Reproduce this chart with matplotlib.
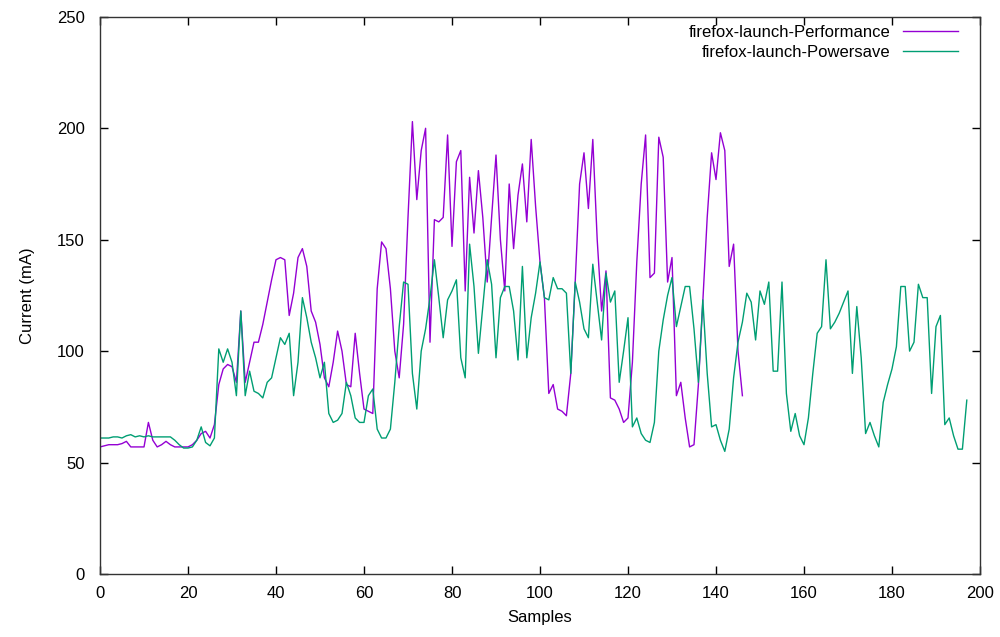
import matplotlib
matplotlib.use("Agg")
import matplotlib.pyplot as plt

# current draw per sample (mA)
performance = [
    57, 57.5, 58, 58, 58, 58.5, 59.5, 57, 57, 57,
    57, 68, 60, 57, 58, 59.5, 58, 57, 57, 57,
    57, 58, 60, 63, 64, 61, 67, 85, 92, 94,
    93, 86, 118, 86, 95, 104, 104, 112, 122, 132,
    141, 142, 141, 116, 126, 142, 146, 138, 118, 113,
    103, 88, 84, 95, 109, 100, 85, 84, 108, 90,
    74, 73, 72, 128, 149, 146, 128, 100, 88, 112,
    160, 203, 168, 190, 200, 104, 159, 158, 160, 197,
    147, 185, 190, 127, 178, 153, 181, 160, 131, 160,
    188, 150, 127, 175, 146, 170, 184, 158, 195, 165,
    140, 124, 81, 85, 74, 73, 71, 90, 131, 175,
    189, 164, 195, 150, 118, 136, 79, 78, 74, 68,
    70, 95, 140, 175, 197, 133, 135, 196, 187, 131,
    142, 80, 86, 70, 57, 58, 85, 122, 160, 189,
    177, 198, 190, 138, 148, 100, 80,
]

powersave = [
    61, 61, 61, 61.5, 61.5, 61, 62, 62.5, 61.5, 62,
    61.5, 62, 61.5, 61.5, 61.5, 61.5, 61.5, 60, 58, 56.5,
    56.5, 57, 60, 66, 59, 57.5, 61, 101, 95, 101,
    95, 80, 118, 80, 91, 82, 81, 79, 86, 88,
    97, 106, 103, 108, 80, 95, 124, 115, 104, 97,
    88, 95, 72, 68, 69, 72, 86, 80, 70, 68,
    68, 80, 83, 65, 61, 61, 65, 86, 111, 131,
    130, 90, 74, 100, 110, 124, 141, 124, 106, 123,
    127, 132, 97, 88, 148, 129, 99, 120, 141, 130,
    97, 124, 129, 129, 118, 96, 138, 97, 115, 126,
    140, 124, 123, 133, 128, 128, 126, 90, 131, 122,
    110, 106, 139, 122, 105, 135, 122, 127, 86, 100,
    115, 66, 70, 63, 60, 59, 68, 100, 114, 125,
    133, 111, 120, 129, 129, 110, 86, 123, 90, 66,
    67, 60, 55, 65, 88, 104, 113, 126, 122, 105,
    127, 121, 131, 91, 91, 131, 81, 64, 72, 62,
    58, 70, 90, 108, 111, 141, 110, 113, 117, 122,
    127, 90, 120, 97, 63, 68, 62, 57, 77, 85,
    92, 102, 129, 129, 100, 104, 130, 124, 124, 81,
    111, 116, 67, 70, 62, 56, 56, 78,
]

labels = ["firefox-launch-Performance", "firefox-launch-Powersave"]
colors = ["#9400d3", "#009e73"]

plt.rcParams["font.family"] = ["Liberation Sans", "DejaVu Sans"]

fig = plt.figure(figsize=(10, 6.37), dpi=100)
ax = fig.add_axes([0.1, 0.099, 0.88, 0.8745])

ax.plot(range(len(performance)), performance, color=colors[0], lw=1, label=labels[0])
ax.plot(range(len(powersave)), powersave, color=colors[1], lw=1, label=labels[1])

ax.set_xlim(0, 200)
ax.set_ylim(0, 250)
ax.set_xticks(range(0, 201, 20))
ax.set_yticks(range(0, 251, 50))
ax.tick_params(direction="in", top=True, right=True, length=6, width=1,
               labelsize=12)
ax.tick_params(axis="x", pad=9)
ax.tick_params(axis="y", pad=11)
for s in ax.spines.values():
    s.set_linewidth(1)
    s.set_color("#333333")

ax.set_xlabel("Samples", fontsize=12, labelpad=6)
ax.set_ylabel("Current (mA)", fontsize=12, labelpad=16)

ax.legend(loc="upper right", bbox_to_anchor=(0.983, 0.998), frameon=False,
          markerfirst=False, fontsize=12, handlelength=3.3, handletextpad=0.8,
          labelspacing=0.3, borderaxespad=0)

fig.savefig("out.png", dpi=100)
